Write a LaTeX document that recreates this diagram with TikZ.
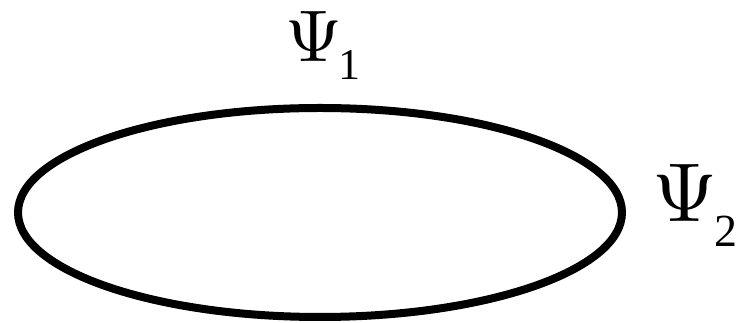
\documentclass[tikz,border=0pt]{standalone}
\usepackage{fontspec}
\setmainfont{Liberation Serif}
\usetikzlibrary{shapes.geometric}
\newcommand\psilabel[5]{\scalebox{#1}{$\Psi$}\kern#4\raisebox{-#3}{\fontsize{#2}{#2}\selectfont #5}}
\begin{document}
\begin{tikzpicture}[x=1pt,y=1pt,
  loopshape/.style={ellipse,draw=black,line width=8pt,inner sep=0pt,
    minimum width=604pt,minimum height=209pt},
  lbl/.style={inner sep=0pt,anchor=base west}]
\useasboundingbox (0,0) rectangle (737,323);
\node[loopshape] (loop) at (320,110.5) {};
\node[lbl] (psi1) at (285,261) {\psilabel{7.32}{44pt}{18pt}{-4pt}{1}};
\node[lbl] (psi2) at (652,101) {\psilabel{8.35}{46pt}{25pt}{-3pt}{2}};
\end{tikzpicture}
\end{document}
